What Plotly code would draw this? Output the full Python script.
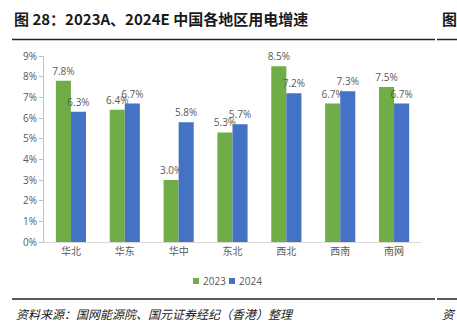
import plotly.graph_objects as go

categories = ["华北", "华东", "华中", "东北", "西北", "西南", "南网"]
values_2023 = [7.8, 6.4, 3.0, 5.3, 8.5, 6.7, 7.5]
values_2024 = [6.3, 6.7, 5.8, 5.7, 7.2, 7.3, 6.7]
series_names = ["2023", "2024"]
series_colors = ["#70AD47", "#4472C4"]
y_ticks = [0, 1, 2, 3, 4, 5, 6, 7, 8, 9]

W, H = 457, 328
ml, mr, mt, mb = 44, 36, 56, 86

label_font = dict(family="Open Sans, DejaVu Sans, sans-serif", size=10, color="#595959")

fig = go.Figure()
for name, vals, color in zip(series_names, [values_2023, values_2024], series_colors):
    fig.add_trace(go.Bar(
        x=categories, y=vals, name=name,
        marker=dict(color=color, line=dict(width=0)),
        text=[f"{v:.1f}%" for v in vals],
        textposition="outside", constraintext="none",
        textfont=label_font, cliponaxis=False, showlegend=False,
    ))

fig.update_layout(
    width=W, height=H,
    margin=dict(l=ml, r=mr, t=mt, b=mb),
    paper_bgcolor="white", plot_bgcolor="white",
    barmode="group", bargap=0.44, bargroupgap=0,
    font=dict(family="Noto Sans CJK SC, sans-serif", color="#595959"),
    showlegend=False,
    xaxis=dict(showline=True, linecolor="#d9d9d9", linewidth=1, ticks="",
               tickfont=dict(family="Noto Sans CJK SC, sans-serif", size=10, color="#595959"),
               showgrid=False),
    yaxis=dict(range=[0, 9], tickmode="array", tickvals=y_ticks,
               ticktext=[f"{t}%" for t in y_ticks],
               showline=True, linecolor="#bfbfbf", linewidth=1,
               ticks="outside", ticklen=4, tickcolor="#bfbfbf",
               showgrid=False, zeroline=False,
               tickfont=dict(family="Open Sans, DejaVu Sans, sans-serif", size=10, color="#595959")),
)

pw = W - ml - mr
ph = H - mt - mb
def px(x):
    return (x - ml) / pw
def py(y):
    return (H - mb - y) / ph

# manual legend with small square markers
leg_y = 281
for i, (name, color) in enumerate(zip(series_names, series_colors)):
    x0 = 193 + i * 36
    fig.add_shape(type="rect", xref="paper", yref="paper",
                  x0=px(x0), x1=px(x0 + 6), y0=py(leg_y - 3), y1=py(leg_y + 3),
                  fillcolor=color, line=dict(width=0))
    fig.add_annotation(xref="paper", yref="paper", x=px(x0 + 8), y=py(leg_y),
                       xanchor="left", yanchor="middle", text=name, showarrow=False,
                       font=dict(family="Open Sans, DejaVu Sans, sans-serif", size=10, color="#595959"))

fig.add_annotation(xref="paper", yref="paper", x=px(12), y=py(19), xanchor="left", yanchor="middle",
                   text="<b>图 28：2023A、2024E 中国各地区用电增速</b>", showarrow=False,
                   font=dict(family="Noto Sans CJK SC, serif", size=15, color="#1a1a1a"))
fig.add_annotation(xref="paper", yref="paper", x=px(440), y=py(19), xanchor="left", yanchor="middle",
                   text="<b>图</b>", showarrow=False,
                   font=dict(family="Noto Sans CJK SC, serif", size=15, color="#1a1a1a"))
fig.add_annotation(xref="paper", yref="paper", x=px(14), y=py(313), xanchor="left", yanchor="middle",
                   text="<i>资料来源：国网能源院、国元证券经纪（香港）整理</i>", showarrow=False,
                   font=dict(family="Noto Sans CJK SC, serif", size=12, color="#1a1a1a"))
fig.add_annotation(xref="paper", yref="paper", x=px(440), y=py(313), xanchor="left", yanchor="middle",
                   text="<i>资</i>", showarrow=False,
                   font=dict(family="Noto Sans CJK SC, serif", size=12, color="#1a1a1a"))

for y in (39.5, 299):
    fig.add_shape(type="line", xref="paper", yref="paper",
                  x0=px(12), x1=px(435), y0=py(y), y1=py(y),
                  line=dict(color="#222222", width=1.5))
    fig.add_shape(type="line", xref="paper", yref="paper",
                  x0=px(437), x1=px(457), y0=py(y), y1=py(y),
                  line=dict(color="#222222", width=1.5))

fig.write_html("out.html")
